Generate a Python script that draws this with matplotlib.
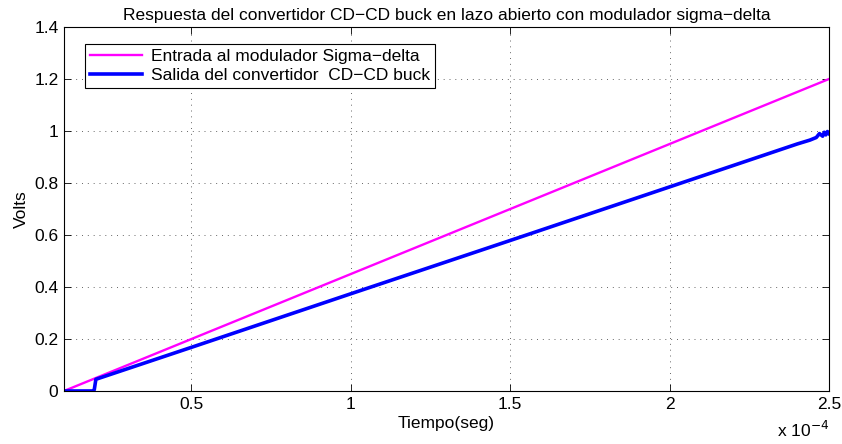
import numpy as np
import matplotlib.pyplot as plt

plt.rcParams['font.family'] = ['Liberation Sans', 'DejaVu Sans']

# data (seconds, volts)
t_in = [1e-5, 2.5e-4]
v_in = [0.0, 1.2]

t_out = [1e-5, 1.9e-5, 1.95e-5, 2.0e-5, 0.5e-4, 1.0e-4, 1.5e-4, 2.0e-4,
         2.40e-4, 2.44e-4, 2.46e-4, 2.47e-4, 2.48e-4, 2.485e-4, 2.49e-4, 2.495e-4, 2.5e-4]
v_out = [0.0, 0.0, 0.005, 0.045, 0.168, 0.374, 0.579, 0.785,
         0.95, 0.965, 0.975, 0.99, 0.98, 0.995, 0.985, 0.998, 0.99]

xticks = [0.5e-4, 1e-4, 1.5e-4, 2e-4, 2.5e-4]
xtick_labels = ['0.5', '1', '1.5', '2', '2.5']
yticks = [0, 0.2, 0.4, 0.6, 0.8, 1.0, 1.2, 1.4]
ytick_labels = ['0', '0.2', '0.4', '0.6', '0.8', '1', '1.2', '1.4']

fs = 12.5

fig = plt.figure(figsize=(8.42, 4.44), dpi=100)
ax = fig.add_axes([0.076, 0.1194, 0.9086, 0.8198])

ax.plot(t_in, v_in, color='#ff00ff', lw=1.7, label='Entrada al modulador Sigma\u2212delta')
ax.plot(t_out, v_out, color='#0000ff', lw=2.6, label='Salida del convertidor  CD\u2212CD buck')

ax.set_xlim(1e-5, 2.5e-4)
ax.set_ylim(0, 1.4)
ax.set_xticks(xticks)
ax.set_xticklabels(xtick_labels)
ax.set_yticks(yticks)
ax.set_yticklabels(ytick_labels)
ax.tick_params(direction='in', top=True, right=True, labelsize=fs, length=5, width=0.6, pad=4)
for s in ax.spines.values():
    s.set_linewidth(0.8)
ax.grid(True, linestyle=(0, (1, 5)), color='k', lw=0.7, alpha=0.6)

ax.set_title('Respuesta del convertidor CD\u2212CD buck en lazo abierto con modulador sigma\u2212delta',
             fontsize=fs, pad=5)
ax.set_xlabel('Tiempo(seg)', fontsize=fs, labelpad=3)
ax.set_ylabel('Volts', fontsize=fs, labelpad=4)
ax.text(1.0, -0.08, 'x 10$^{-4}$', transform=ax.transAxes, ha='right', va='top', fontsize=fs)

leg = ax.legend(loc='upper left', bbox_to_anchor=(0.027, 0.953), fontsize=fs,
                fancybox=False, edgecolor='k', framealpha=1, handlelength=3.0,
                borderpad=0.3, labelspacing=0.2, handletextpad=0.5, borderaxespad=0)
leg.get_frame().set_linewidth(0.8)

fig.savefig('out.png', dpi=100)
